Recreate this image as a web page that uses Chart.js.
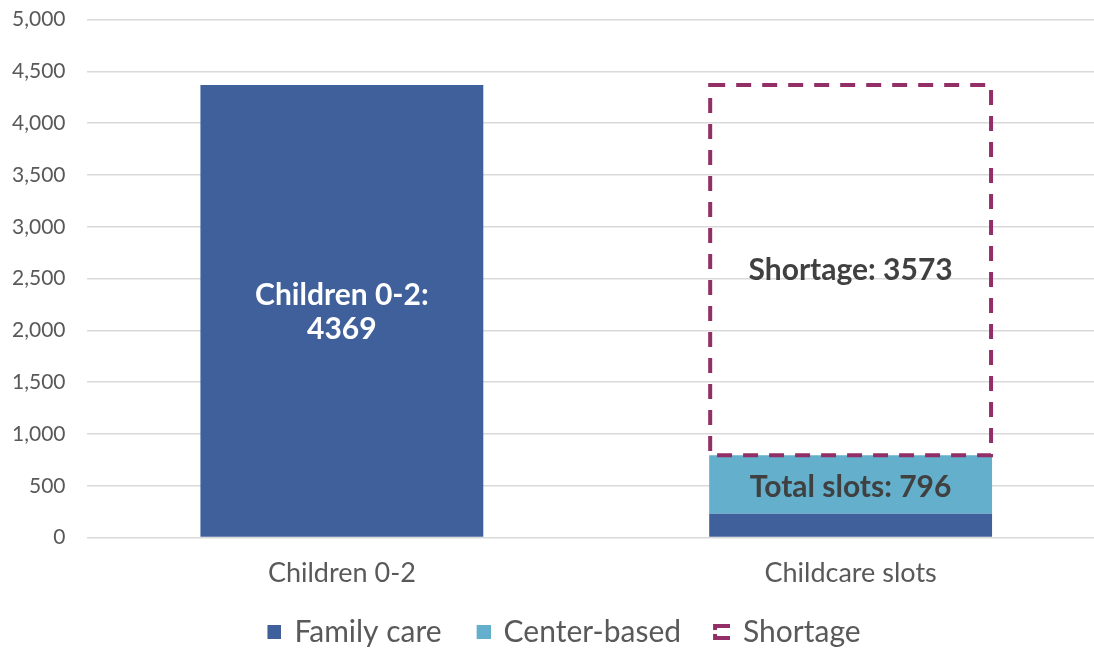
<!DOCTYPE html>
<html>
<head>
<meta charset="utf-8">
<script src="https://cdn.jsdelivr.net/npm/chart.js@4/dist/chart.umd.min.js"></script>
<style>
  html, body { margin: 0; padding: 0; background: #fff; overflow: hidden; }
  #wrap { width: 1106px; height: 651px; }
</style>
</head>
<body>
<div id="wrap"><canvas id="slotsChart"></canvas></div>
<script>
// data
var categories = ["Children 0-2", "Childcare slots"];
var familyCare = [4369, 230];
var centerBased = [0, 566];
var shortage = [0, 3573];
var yTicks = [0, 500, 1000, 1500, 2000, 2500, 3000, 3500, 4000, 4500, 5000];

var fontFam = "Lato, 'Open Sans', sans-serif";
var grey = "#595959";
var plum = "#922F66";

// legend icons sit at the right of a wider box so items spread like the original
function bracketIcon() {
	var c = document.createElement('canvas');
	c.width = 34; c.height = 16;
	var g = c.getContext('2d');
	g.strokeStyle = plum;
	g.lineWidth = 4;
	g.beginPath();
	g.moveTo(34, 2); g.lineTo(19, 2); g.lineTo(19, 6);
	g.moveTo(19, 10); g.lineTo(19, 14); g.lineTo(34, 14);
	g.stroke();
	return c;
}

function squareIcon(col) {
	var c = document.createElement('canvas');
	c.width = 34; c.height = 14;
	var g = c.getContext('2d');
	g.fillStyle = col;
	g.fillRect(20, 0, 14, 14);
	return c;
}

var barLabels = {
	id: 'barLabels',
	afterDatasetsDraw: function(chart) {
		var ctx = chart.ctx;
		ctx.save();
		// dashed shortage box
		var sm = chart.getDatasetMeta(2);
		sm.data.forEach(function(el, i) {
			if (!shortage[i]) return;
			var p = el.getProps(['x', 'y', 'base', 'width'], true);
			ctx.strokeStyle = plum;
			ctx.lineWidth = 4;
			ctx.setLineDash([15, 11]);
			ctx.strokeRect(p.x - p.width / 2 + 1, p.y, p.width - 2, p.base - p.y);
			ctx.setLineDash([]);
		});
		ctx.textAlign = 'center';
		ctx.textBaseline = 'middle';
		ctx.font = "bold 30px " + fontFam;
		// children label
		var f = chart.getDatasetMeta(0).data[0].getProps(['x', 'y', 'base'], true);
		ctx.fillStyle = '#ffffff';
		var mid = (f.y + f.base) / 2;
		ctx.fillText(categories[0] + ":", f.x, mid - 16);
		ctx.fillText(String(familyCare[0]), f.x, mid + 18);
		// shortage label
		var s = sm.data[1].getProps(['x', 'y', 'base'], true);
		ctx.fillStyle = '#404040';
		ctx.fillText("Shortage: " + shortage[1], s.x, (s.y + s.base) / 2);
		// total slots label
		var c = chart.getDatasetMeta(1).data[1].getProps(['x', 'y', 'base'], true);
		ctx.fillText("Total slots: " + (familyCare[1] + centerBased[1]), c.x, (c.y + c.base) / 2 + 3);
		ctx.restore();
	}
};

var slotsChart = new Chart(document.getElementById('slotsChart'), {
	type: 'bar',
	data: {
		labels: categories,
		datasets: [
			{
				label: "Family care",
				data: familyCare,
				backgroundColor: "#40609C",
				borderWidth: 0,
				categoryPercentage: 1,
				barPercentage: 0.556
			},
			{
				label: "Center-based",
				data: centerBased,
				backgroundColor: "#63AFCC",
				borderWidth: 0,
				categoryPercentage: 1,
				barPercentage: 0.556
			},
			{
				label: "Shortage",
				data: shortage,
				backgroundColor: "rgba(0,0,0,0)",
				borderWidth: 0,
				categoryPercentage: 1,
				barPercentage: 0.556
			}
		]
	},
	options: {
		responsive: true,
		maintainAspectRatio: false,
		animation: false,
		layout: { padding: { left: 5, right: 1, top: 0, bottom: -6 } },
		plugins: {
			tooltip: { enabled: false },
			legend: {
				position: 'bottom',
				labels: {
					font: { family: fontFam, size: 30 },
					color: grey,
					padding: 17,
					boxWidth: 34,
					usePointStyle: true,
					generateLabels: function(chart) {
						return [
							{ text: "Family care", pointStyle: squareIcon("#40609C"), fontColor: grey, datasetIndex: 0, lineWidth: 0 },
							{ text: "Center-based", pointStyle: squareIcon("#63AFCC"), fontColor: grey, datasetIndex: 1, lineWidth: 0 },
							{ text: "Shortage", pointStyle: bracketIcon(), fontColor: grey, datasetIndex: 2, lineWidth: 0 }
						];
					}
				}
			}
		},
		scales: {
			x: {
				stacked: true,
				grid: { display: false },
				border: { display: false },
				ticks: { font: { family: fontFam, size: 27 }, color: grey, padding: 11 }
			},
			y: {
				stacked: true,
				min: 0,
				max: 5000,
				afterBuildTicks: function(axis) {
					axis.ticks = yTicks.map(function(v) { return { value: v }; });
				},
				grid: { color: '#d9d9d9', lineWidth: 1.5, tickLength: 15, tickColor: 'rgba(0,0,0,0)' },
				border: { display: false },
				ticks: {
					font: { family: fontFam, size: 21 },
					color: grey,
					padding: 7,
					callback: function(v) { return v.toLocaleString('en-US'); }
				}
			}
		}
	},
	plugins: [barLabels]
});
</script>
</body>
</html>
